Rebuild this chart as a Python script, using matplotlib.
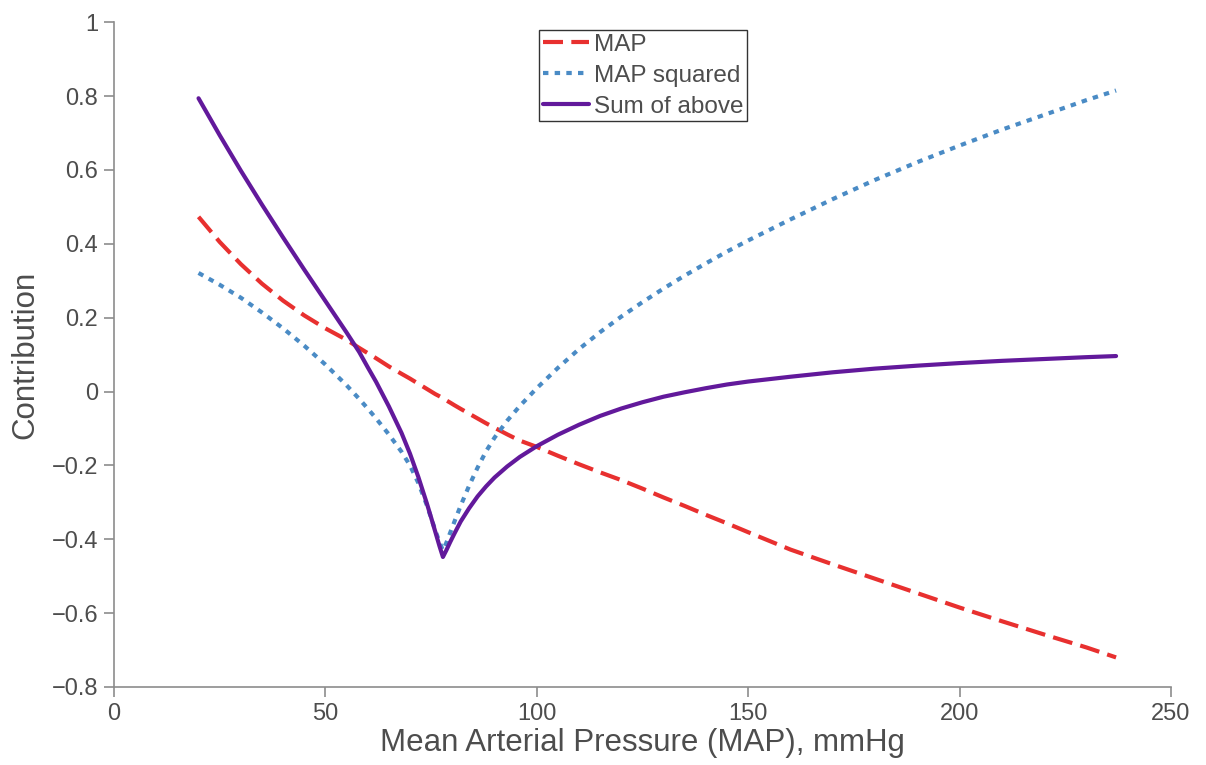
import numpy as np
import matplotlib
matplotlib.use("Agg")
import matplotlib.pyplot as plt

# values
map_x = [20, 25, 30, 35, 40, 45, 50, 55, 58, 60, 62, 65, 68, 70, 72, 74, 75, 76, 77, 77.8,
         78.6, 79.5, 80.5, 82, 84, 86, 88, 90, 93, 96, 100, 105, 110, 115, 120,
         125, 130, 135, 140, 145, 150, 160, 170, 180, 190, 200, 210, 220, 230, 237]

map_lin = [0.473, 0.405, 0.345, 0.292, 0.246, 0.206, 0.171, 0.140, 0.118, 0.104, 0.090,
           0.068, 0.048, 0.035, 0.021, 0.007, 0.000, -0.007, -0.013, -0.018,
           -0.024, -0.030, -0.037, -0.047, -0.060, -0.073, -0.086, -0.098, -0.116,
           -0.133, -0.150, -0.174, -0.197, -0.219, -0.240,
           -0.263, -0.287, -0.310, -0.334, -0.357, -0.381, -0.428, -0.468, -0.507,
           -0.546, -0.585, -0.622, -0.658, -0.693, -0.720]

map_sq = [0.321, 0.289, 0.254, 0.214, 0.171, 0.124, 0.073, 0.017, -0.020, -0.046, -0.073,
          -0.116, -0.163, -0.200, -0.248, -0.308, -0.342, -0.376, -0.408, -0.430,
          -0.410, -0.383, -0.353, -0.309, -0.255, -0.206, -0.162, -0.125, -0.079,
          -0.039, 0.009, 0.064, 0.115, 0.161, 0.203,
          0.242, 0.279, 0.314, 0.347, 0.379, 0.409, 0.466, 0.521, 0.573,
          0.621, 0.666, 0.709, 0.749, 0.789, 0.815]

map_sum = [0.794, 0.694, 0.598, 0.506, 0.417, 0.330, 0.245, 0.160, 0.107, 0.066, 0.026,
           -0.040, -0.112, -0.168, -0.232, -0.303, -0.341, -0.380, -0.419, -0.448,
           -0.430, -0.408, -0.385, -0.352, -0.316, -0.284, -0.257, -0.233, -0.203,
           -0.177, -0.148, -0.117, -0.090, -0.066, -0.046,
           -0.029, -0.014, -0.002, 0.009, 0.019, 0.027, 0.040, 0.052, 0.062,
           0.070, 0.077, 0.083, 0.088, 0.093, 0.096]

x_ticks = [0, 50, 100, 150, 200, 250]
y_ticks = [-0.8, -0.6, -0.4, -0.2, 0, 0.2, 0.4, 0.6, 0.8, 1]
y_labels = ["\u22120.8", "\u22120.6", "\u22120.4", "\u22120.2", "0", "0.2", "0.4", "0.6", "0.8", "1"]

plt.rcParams["font.family"] = ["Liberation Sans", "DejaVu Sans"]
text_col = "#4d4d4d"
spine_col = "#8c8c8c"

fig = plt.figure(figsize=(12.06, 7.65), dpi=100)
ax = fig.add_axes([0.0945, 0.102, 0.8765, 0.869])

ax.plot(map_x, map_lin, color="#e8302f", lw=3, linestyle=(0, (4.8, 2.0)),
        dash_capstyle="butt", label="MAP")
ax.plot(map_x, map_sq, color="#4a8bc5", lw=3, linestyle=(0, (1.3, 1.5)),
        dash_capstyle="butt", label="MAP squared")
ax.plot(map_x, map_sum, color="#62199b", lw=3, solid_capstyle="round",
        solid_joinstyle="round", label="Sum of above")

ax.set_xlim(0, 250)
ax.set_ylim(-0.8, 1)
ax.set_xticks(x_ticks)
ax.set_yticks(y_ticks)
ax.set_yticklabels(y_labels)

for side in ["top", "right"]:
    ax.spines[side].set_visible(False)
for side in ["left", "bottom"]:
    ax.spines[side].set_color(spine_col)
    ax.spines[side].set_linewidth(1.2)
ax.tick_params(direction="out", length=7.5, width=1.2, color=spine_col,
               labelsize=17, labelcolor=text_col, pad=4)

ax.set_xlabel("Mean Arterial Pressure (MAP), mmHg", fontsize=22.5, color=text_col, labelpad=2)
ax.set_ylabel("Contribution", fontsize=22.5, color=text_col, labelpad=8)

leg = ax.legend(loc="upper center", bbox_to_anchor=(0.5005, 0.988), fontsize=17.5,
                frameon=True, fancybox=False, handlelength=1.9, handletextpad=0.2,
                borderpad=0.15, labelspacing=0.37, borderaxespad=0)
leg.get_frame().set_edgecolor("black")
leg.get_frame().set_linewidth(1.0)
for t in leg.get_texts():
    t.set_color(text_col)

fig.savefig("out.png", dpi=100)
